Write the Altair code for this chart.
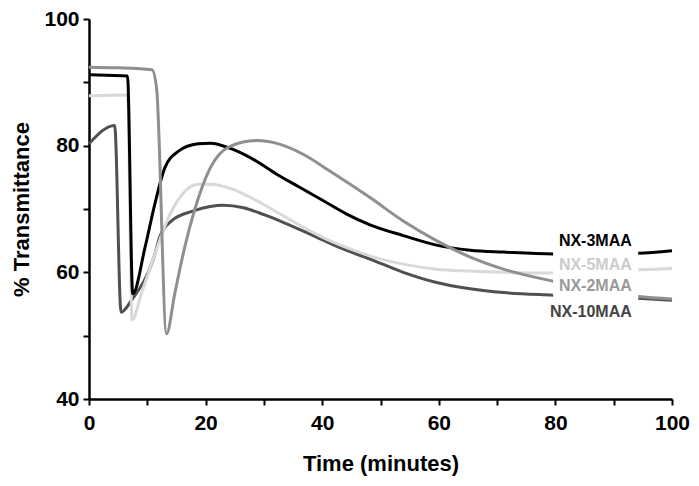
import altair as alt
import pandas as pd

# ---- data ----
t_3 = [0, 3, 6.6, 7.5, 9.6, 11.3, 13, 15.3, 18.7, 20.8, 24.7, 28.8, 32.2, 36.2, 40.2, 44.2, 48.2, 53.9, 59.6, 65.4, 71.1, 79.6, 94.2, 100]
v_3 = [91.2, 91.1, 91.0, 56.6, 63.9, 70.8, 76.5, 79.1, 80.3, 80.4, 79.4, 77.5, 75.5, 73.4, 71.3, 69.2, 67.5, 65.8, 64.3, 63.5, 63.2, 62.9, 63.0, 63.4]

t_5 = [0, 6.6, 7.4, 9.0, 11.3, 13.6, 15.8, 18.7, 20.8, 24.7, 28.8, 32.8, 36.8, 41.3, 44.8, 48.2, 53.9, 59.6, 65.4, 71.1, 79.6, 94.2, 100]
v_5 = [87.9, 88.0, 52.5, 56.7, 62.9, 68.6, 72.1, 73.9, 73.9, 73.1, 71.3, 69.2, 67.1, 65.0, 63.7, 62.6, 61.3, 60.5, 60.2, 60.0, 59.9, 60.4, 60.6]

t_2 = [0, 5, 10.8, 11.6, 13.3, 14.7, 16.4, 18.1, 20.8, 24.2, 28.8, 32.8, 36.8, 41.3, 44.8, 48.2, 53.9, 59.6, 65.4, 71.1, 79.6, 94.2, 100]
v_2 = [92.4, 92.3, 92.0, 89.0, 50.3, 56.6, 63.9, 69.8, 76.5, 79.9, 80.8, 80.2, 78.6, 76.0, 73.9, 71.8, 68.1, 65.0, 62.4, 60.5, 58.6, 56.2, 55.8]

t_10 = [0, 4.4, 5.5, 7.3, 11.3, 12.1, 14.1, 17.9, 20.8, 23.0, 26.5, 30.0, 33.3, 38, 43, 48.2, 53.9, 59.6, 65.4, 71.1, 79.6, 94.2, 100]
v_10 = [80.3, 83.2, 53.7, 55.6, 62.9, 65.5, 68.1, 69.7, 70.4, 70.6, 70.2, 69.1, 67.9, 66.0, 63.9, 62.1, 60.0, 58.4, 57.4, 56.8, 56.4, 55.9, 55.6]

series_names = ["NX-10MAA", "NX-5MAA", "NX-3MAA", "NX-2MAA"]
series_colors = ["#505050", "#d9d9d9", "#000000", "#8f8f8f"]
label_colors = ["#444444", "#cccccc", "#000000", "#999999"]
label_y = [53.7, 61.1, 65.0, 57.9]
label_x = [93.1, 93.1, 93.1, 93.1]

# white box behind labels (data coordinates)
box_t = [79.6, 94.2]
box_v = [53.0, 66.5]

x_ticks = [0, 10, 20, 30, 40, 50, 60, 70, 80, 90, 100]
y_ticks = [40, 50, 60, 70, 80, 90, 100]

# ---- build table ----
rows = []
for name, ts, vs in [("NX-10MAA", t_10, v_10), ("NX-5MAA", t_5, v_5),
                     ("NX-3MAA", t_3, v_3), ("NX-2MAA", t_2, v_2)]:
    for i, (t, v) in enumerate(zip(ts, vs)):
        rows.append({"series": name, "t": t, "v": v, "order": i})
df = pd.DataFrame(rows)

labels_df = pd.DataFrame({"series": series_names, "x": label_x, "y": label_y,
                          "color": label_colors})
box_df = pd.DataFrame({"x": [box_t[0]], "x2": [box_t[1]], "y": [box_v[0]], "y2": [box_v[1]]})

FONT = "Liberation Sans"

xscale = alt.Scale(domain=[0, 100], nice=False)
yscale = alt.Scale(domain=[40, 100], nice=False)

xaxis = alt.Axis(values=x_ticks, labelExpr="datum.value % 20 == 0 ? datum.label : ''",
                 title="Time (minutes)", grid=False, labelPadding=7, titlePadding=20,
                 titleFontSize=22, labelFlush=False)
yaxis = alt.Axis(values=y_ticks, labelExpr="datum.value % 20 == 0 ? datum.label : ''",
                 title="% Transmittance", grid=False, labelPadding=4, titlePadding=10,
                 titleFontSize=22, labelFlush=False)

lines = alt.Chart(df).mark_line(strokeWidth=3, interpolate="monotone").encode(
    x=alt.X("t:Q", scale=xscale, axis=xaxis),
    y=alt.Y("v:Q", scale=yscale, axis=yaxis),
    color=alt.Color("series:N", scale=alt.Scale(domain=series_names, range=series_colors), legend=None),
    detail="series:N",
    order="order:Q",
)

box = alt.Chart(box_df).mark_rect(color="white").encode(
    x=alt.X("x:Q", scale=xscale), x2="x2", y=alt.Y("y:Q", scale=yscale), y2="y2")

texts = alt.Chart(labels_df).mark_text(align="right", baseline="middle", fontSize=16,
                                        fontWeight="bold", font=FONT).encode(
    x=alt.X("x:Q", scale=xscale), y=alt.Y("y:Q", scale=yscale),
    text="series:N",
    color=alt.Color("color:N", scale=None),
)

chart = alt.layer(lines, box, texts).properties(
    width=583, height=380,
    autosize=alt.AutoSizeParams(type="none"),
    padding={"left": 81, "top": 11, "right": 19, "bottom": 79},
).configure_view(stroke=None).configure_axis(
    domainColor="black", domainWidth=2.5, tickColor="black", tickWidth=2, tickSize=6,
    labelFont=FONT, labelFontWeight="bold", labelFontSize=21, labelColor="black",
    titleFont=FONT, titleFontWeight="bold", titleColor="black",
)

chart.save("out.html", embed_options={"renderer": "svg", "actions": False})
